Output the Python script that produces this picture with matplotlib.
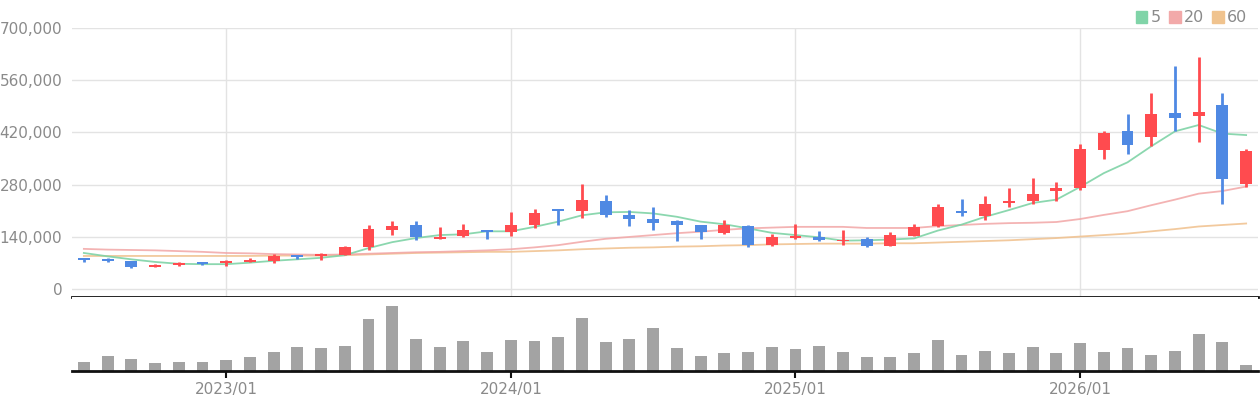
import matplotlib
matplotlib.use("Agg")
import matplotlib.pyplot as plt
from matplotlib.patches import Patch
from matplotlib.ticker import FuncFormatter
import numpy as np

# monthly candles, 2022/07 .. 2026/08 (values in thousand won)
months = ["2022/07", "2022/08", "2022/09", "2022/10", "2022/11", "2022/12",
          "2023/01", "2023/02", "2023/03", "2023/04", "2023/05", "2023/06",
          "2023/07", "2023/08", "2023/09", "2023/10", "2023/11", "2023/12",
          "2024/01", "2024/02", "2024/03", "2024/04", "2024/05", "2024/06",
          "2024/07", "2024/08", "2024/09", "2024/10", "2024/11", "2024/12",
          "2025/01", "2025/02", "2025/03", "2025/04", "2025/05", "2025/06",
          "2025/07", "2025/08", "2025/09", "2025/10", "2025/11", "2025/12",
          "2026/01", "2026/02", "2026/03", "2026/04", "2026/05", "2026/06",
          "2026/07", "2026/08"]

opens = [83, 80, 75, 60, 65, 72, 69, 72, 75, 91, 88, 91, 113, 158, 172, 135, 143, 158,
         154, 172, 214, 209, 236, 198, 188, 182, 172, 150, 169, 118, 136, 139, 128, 134,
         115, 142, 169, 210, 197, 232, 235, 264, 270, 372, 424, 408, 472, 464, 493, 283]
highs = [84, 84, 75, 67, 73, 72, 78, 83, 94, 91, 97, 115, 172, 182, 182, 166, 174, 158,
         206, 214, 214, 282, 253, 212, 220, 185, 172, 185, 172, 147, 174, 155, 158, 139,
         153, 174, 228, 243, 251, 272, 299, 288, 388, 424, 469, 526, 598, 622, 526, 375]
lows = [72, 72, 57, 59, 62, 65, 62, 72, 70, 80, 78, 91, 105, 145, 131, 135, 140, 135,
        142, 164, 172, 190, 193, 169, 158, 129, 134, 147, 113, 115, 134, 129, 119, 113,
        115, 142, 166, 197, 186, 219, 229, 235, 267, 349, 362, 384, 424, 394, 229, 275]
closes = [78, 76, 59, 64, 70, 67, 76, 78, 89, 86, 94, 113, 161, 169, 139, 139, 158, 153,
          172, 204, 209, 239, 198, 188, 178, 172, 153, 172, 118, 139, 142, 131, 133, 115,
          145, 166, 220, 205, 229, 237, 256, 270, 375, 418, 386, 469, 459, 475, 295, 370]

ma5 = [97, 88, 80, 73, 68, 67, 67, 71, 76, 80, 84, 91, 110, 126, 137, 145, 147, 155,
       155, 167, 181, 198, 206, 207, 203, 194, 181, 174, 163, 151, 145, 139, 130, 131,
       133, 136, 157, 173, 194, 212, 231, 240, 274, 311, 340, 383, 423, 440, 417, 413]
ma20 = [108, 106, 105, 104, 102, 100, 97, 96, 94, 93, 92, 93, 95, 97, 99, 100, 102, 104,
        107, 112, 118, 127, 135, 140, 145, 150, 154, 159, 163, 165, 167, 167, 167, 164,
        164, 164, 169, 172, 175, 177, 178, 180, 188, 199, 209, 225, 240, 256, 263, 275]
ma60 = [89, 89, 89, 89, 89, 89, 89, 89, 90, 90, 90, 91, 93, 95, 97, 98, 99, 100,
        100, 102, 104, 107, 109, 111, 112, 114, 115, 117, 118, 120, 121, 122, 122, 122,
        123, 123, 125, 127, 129, 131, 134, 137, 141, 145, 149, 155, 161, 168, 172, 176]

volume = [28, 45, 36, 24, 28, 28, 33, 42, 57, 72, 69, 75, 156, 195, 96, 72, 90, 57,
          93, 90, 102, 159, 87, 96, 129, 69, 45, 54, 57, 72, 66, 75, 57, 42, 42, 54,
          93, 48, 60, 54, 72, 54, 84, 57, 69, 48, 60, 111, 87, 18]

RED = "#ff4b4f"
BLUE = "#4f89e3"
GRID = "#e3e3e3"
TXT = "#8a8a8a"

x = np.arange(len(months))
o = np.array(opens) * 1000
h = np.array(highs) * 1000
l = np.array(lows) * 1000
c = np.array(closes) * 1000
up = c >= o
cols = np.where(up, RED, BLUE)

fig = plt.figure(figsize=(12.6, 4), dpi=100)
ax = fig.add_axes([72 / 1260, 1 - 297 / 400, 1186 / 1260, 269 / 400])
axv = fig.add_axes([72 / 1260, 1 - 371 / 400, 1186 / 1260, 74 / 400], sharex=ax)

# moving averages
ax.plot(x, np.array(ma60) * 1000, color="#f0c08c", lw=1.3, alpha=0.85, zorder=2)
ax.plot(x, np.array(ma20) * 1000, color="#f2a6a6", lw=1.3, alpha=0.85, zorder=2)
ax.plot(x, np.array(ma5) * 1000, color="#7fd3a6", lw=1.3, alpha=0.9, zorder=2)

# candles
ax.vlines(x, l, h, colors=cols, lw=2, zorder=3)
body = np.abs(c - o)
body = np.maximum(body, 4000)
ax.bar(x, body, bottom=np.minimum(o, c), width=0.5, color=cols, zorder=4)

ax.set_ylim(-21000, 700000)
ax.set_xlim(-0.5, 49.5)
ax.set_yticks(np.arange(0, 700001, 140000))
ax.yaxis.set_major_formatter(FuncFormatter(lambda v, p: f"{int(v):,}"))
ax.tick_params(axis="y", length=0, pad=7, labelsize=11, labelcolor=TXT)
ax.tick_params(axis="x", length=0, labelbottom=False)
ax.grid(True, color=GRID, lw=1)
ax.set_axisbelow(True)
for s in ["top", "right", "left"]:
    ax.spines[s].set_visible(False)
ax.spines["bottom"].set_color("#111111")
ax.spines["bottom"].set_linewidth(2)

jan = [i for i, m in enumerate(months) if m.endswith("/01")]
ax.set_xticks(jan)

# volume
axv.bar(x, volume, width=0.5, color="#a3a3a3")
axv.set_ylim(0, 222)
axv.set_yticks([])
for s in ["top", "right", "left"]:
    axv.spines[s].set_visible(False)
axv.spines["bottom"].set_color("#111111")
axv.spines["bottom"].set_linewidth(2)
axv.set_xticks(jan)
axv.set_xticklabels([months[i] for i in jan])
axv.tick_params(axis="x", length=5, width=1.5, color="#111111", labelsize=11,
                labelcolor=TXT, pad=3)

handles = [Patch(color="#80d4a8"), Patch(color="#f2a9a9"), Patch(color="#f0c38e")]
fig.legend(handles, ["5", "20", "60"], loc="upper right", bbox_to_anchor=(1258 / 1260, 1.0),
           ncol=3, frameon=False, fontsize=11.5, labelcolor=TXT, handlelength=0.75,
           handleheight=0.75, handletextpad=0.2, columnspacing=0.5, borderpad=0.15)

fig.savefig("out.png", dpi=100)
